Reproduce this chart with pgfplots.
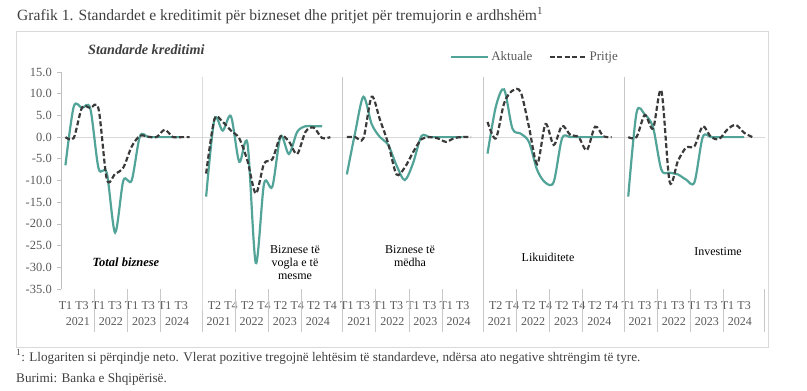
\documentclass[border=0pt]{standalone}
\usepackage{fontspec}
\setmainfont{Liberation Serif}
\usepackage{pgfplots}
\pgfplotsset{compat=1.18}
\definecolor{grn}{HTML}{52A398}
\definecolor{dsh}{HTML}{3A3A3A}
\definecolor{zerogray}{HTML}{D9D9D9}
\definecolor{axgray}{HTML}{BFBFBF}
\definecolor{sepgray}{HTML}{C8C8C8}
\definecolor{tickgray}{HTML}{595959}
\definecolor{titlegray}{HTML}{404040}
\definecolor{framegray}{HTML}{D9D9D9}
\begin{document}
\begin{tikzpicture}[x=1bp,y=1bp]
\useasboundingbox (0,0) rectangle (807,390);
\draw[framegray, line width=0.8bp] (16,43) rectangle (768,359);
\node[anchor=base west, font=\fontsize{15.6bp}{17bp}\selectfont, text=titlegray, inner sep=0] at (17,370) {Grafik 1. Standardet e kreditimit për bizneset dhe pritjet për tremujorin e ardhshëm\textsuperscript{1}};
\node[anchor=base west, font=\fontsize{14.2bp}{16bp}\selectfont\bfseries\itshape, text=titlegray, inner sep=0] at (88,336) {Standarde kreditimi};
\node[anchor=base west, font=\fontsize{13.2bp}{15bp}\selectfont, text=titlegray, inner sep=0] at (16,29) {\textsuperscript{1}: Llogariten si përqindje neto. Vlerat pozitive tregojnë lehtësim të standardeve, ndërsa ato negative shtrëngim të tyre.};
\node[anchor=base west, font=\fontsize{13.2bp}{15bp}\selectfont, text=titlegray, inner sep=0] at (16,8) {Burimi: Banka e Shqipërisë.};
\node[align=center, font=\fontsize{12.5bp}{13bp}\selectfont\bfseries\itshape, inner sep=0] at (126,128) {Total biznese};
\node[align=center, font=\fontsize{12bp}{13bp}\selectfont, inner sep=0] at (295,127) {Biznese të\\vogla e të\\mesme};
\node[align=center, font=\fontsize{12bp}{13bp}\selectfont, inner sep=0] at (410,133.5) {Biznese të\\mëdha};
\node[align=center, font=\fontsize{12bp}{13bp}\selectfont, inner sep=0] at (548,133) {Likuiditete};
\node[align=center, font=\fontsize{12bp}{13bp}\selectfont, inner sep=0] at (718,138) {Investime};
\begin{axis}[
  at={(61.3bp,101bp)}, anchor=south west,
  scale only axis, width=703.5bp, height=217bp,
  xmin=-0.5, xmax=84.5, ymin=-35, ymax=15,
  clip=false,
  axis lines*=left,
  x axis line style={draw=none},
  y axis line style={draw=axgray, line width=0.8bp},
  ytick={-35,-30,...,15},
  /pgf/number format/fixed,
  /pgf/number format/fixed zerofill,
  /pgf/number format/precision=1,
  /pgf/number format/assume math mode=true,
  yticklabel style={font=\fontsize{12.5bp}{14bp}\selectfont, text=tickgray, xshift=-2bp},
  ytick style={draw=axgray, line width=0.8bp},
  tick align=outside, major tick length=4bp,
  xtick={0,2,...,82},
  xticklabels={T1,T3,T1,T3,T1,T3,T1,T3,{},T2,T4,T2,T4,T2,T4,T2,T4,T1,T3,T1,T3,T1,T3,T1,T3,{},T2,T4,T2,T4,T2,T4,T2,T4,T1,T3,T1,T3,T1,T3,T1,T3},
  xtick style={draw=none},
  xticklabel style={font=\fontsize{12bp}{14bp}\selectfont, text=tickgray, anchor=center, yshift=-13bp},
  extra x ticks={1.5,5.5,9.5,13.5,18.5,22.5,26.5,30.5,35.5,39.5,43.5,47.5,52.5,56.5,60.5,64.5,69.5,73.5,77.5,81.5},
  extra x tick labels={2021,2022,2023,2024,2021,2022,2023,2024,2021,2022,2023,2024,2021,2022,2023,2024,2021,2022,2023,2024},
  extra x tick style={xticklabel style={yshift=-20bp}, major tick length=0pt},
  legend style={draw=none, fill=none, at={(0.6733,1.069)}, anchor=center, legend columns=2,
    font=\fontsize{13bp}{15bp}\selectfont, text=tickgray,
    /tikz/every even column/.append style={column sep=14bp}},
  legend image code/.code={\draw[#1] (0bp,0bp) -- (37bp,0bp);},
]
\draw[zerogray, line width=0.8bp] (axis cs:-0.5,0) -- (axis cs:84.5,0);
\pgfplotsinvokeforeach{16.5,33.5,50.5,67.5}{\draw[sepgray, line width=0.8bp] (axis cs:#1,13.8) -- (axis cs:#1,-35) -- ++(0bp,-43bp);}
\pgfplotsinvokeforeach{3.5,7.5,11.5,20.5,24.5,28.5,37.5,41.5,45.5,54.5,58.5,62.5,71.5,75.5,79.5,84.5}{\draw[sepgray, line width=0.8bp] (axis cs:#1,-35) -- ++(0bp,-43bp);}
% Total biznese
\addplot[grn, line width=2.2bp, smooth] coordinates {(0,-6.5) (1,7.0) (2,6.7) (3,6.6) (4,-7.2) (5,-8.3) (6,-22.0) (7,-10.0) (8,-10.0) (9,0.2) (10,0) (11,0) (12,0) (13,0) (14,0)};
\addlegendentry{Aktuale}
\addplot[dsh, line width=2.2bp, dash pattern=on 5bp off 2.5bp, smooth] coordinates {(0,0) (1,-0.2) (2,6.8) (3,6.7) (4,6.5) (5,-9.7) (6,-8.5) (7,-7.0) (8,-2.2) (9,0.3) (10,0.1) (11,0) (12,1.7) (13,0) (14,0) (15,0)};
\addlegendentry{Pritje}
% Biznese te vogla e te mesme
\addplot[grn, line width=2.2bp, smooth, forget plot] coordinates {(17,-13.7) (18,4.1) (19,1.5) (20,4.8) (21,-5.7) (22,-1.5) (23,-29.0) (24,-10.7) (25,-11.4) (26,0.2) (27,-3.9) (28,1.2) (29,2.5) (30,2.5) (31,2.5)};
\addplot[dsh, line width=2.2bp, dash pattern=on 5bp off 2.5bp, smooth, forget plot] coordinates {(17,-8.4) (18,4.1) (19,3.5) (20,1.5) (21,-0.3) (22,-5.5) (23,-13.0) (24,-6.1) (25,-5.1) (26,0.2) (27,-1.0) (28,-3.9) (29,1.2) (30,2.2) (31,-0.2) (32,0)};
% Biznese te medha
\addplot[grn, line width=2.2bp, smooth, forget plot] coordinates {(34,-8.6) (35,1.0) (36,9.3) (37,3.0) (38,0.0) (39,-1.8) (40,-6.5) (41,-9.9) (42,-6.0) (43,0.2) (44,0) (45,0) (46,0) (47,0) (48,0)};
\addplot[dsh, line width=2.2bp, dash pattern=on 5bp off 2.5bp, smooth, forget plot] coordinates {(34,0) (35,0) (36,-0.3) (37,9.3) (38,4.0) (39,-1.5) (40,-8.6) (41,-7.0) (42,-3.5) (43,-0.5) (44,0) (45,-0.3) (46,-1.1) (47,-0.2) (48,0) (49,0)};
% Likuiditete
\addplot[grn, line width=2.2bp, smooth, forget plot] coordinates {(51,-3.8) (52,7.0) (53,11.0) (54,2.0) (55,0.8) (56,-1.1) (57,-7.6) (58,-10.5) (59,-10.3) (60,-0.3) (61,0) (62,0) (63,0) (64,0) (65,0)};
\addplot[dsh, line width=2.2bp, dash pattern=on 5bp off 2.5bp, smooth, forget plot] coordinates {(51,3.5) (52,-0.3) (53,7.8) (54,10.7) (55,10.4) (56,2.4) (57,-6.2) (58,3.0) (59,-1.8) (60,2.6) (61,0.5) (62,0) (63,-3.0) (64,2.4) (65,0.2) (66,0)};
% Investime
\addplot[grn, line width=2.2bp, smooth, forget plot] coordinates {(68,-13.7) (69,5.6) (70,5.2) (71,2.2) (72,-7.5) (73,-8.2) (74,-8.6) (75,-9.8) (76,-10.4) (77,0) (78,0) (79,0) (80,0) (81,0) (82,0)};
\addplot[dsh, line width=2.2bp, dash pattern=on 5bp off 2.5bp, smooth, forget plot] coordinates {(68,0) (69,0) (70,5.1) (71,2.0) (72,10.7) (73,-10.3) (74,-5.5) (75,-2.4) (76,-2.1) (77,2.5) (78,0) (79,-0.4) (80,1.8) (81,2.8) (82,1.0) (83,0)};
\end{axis}
\end{tikzpicture}
\end{document}
